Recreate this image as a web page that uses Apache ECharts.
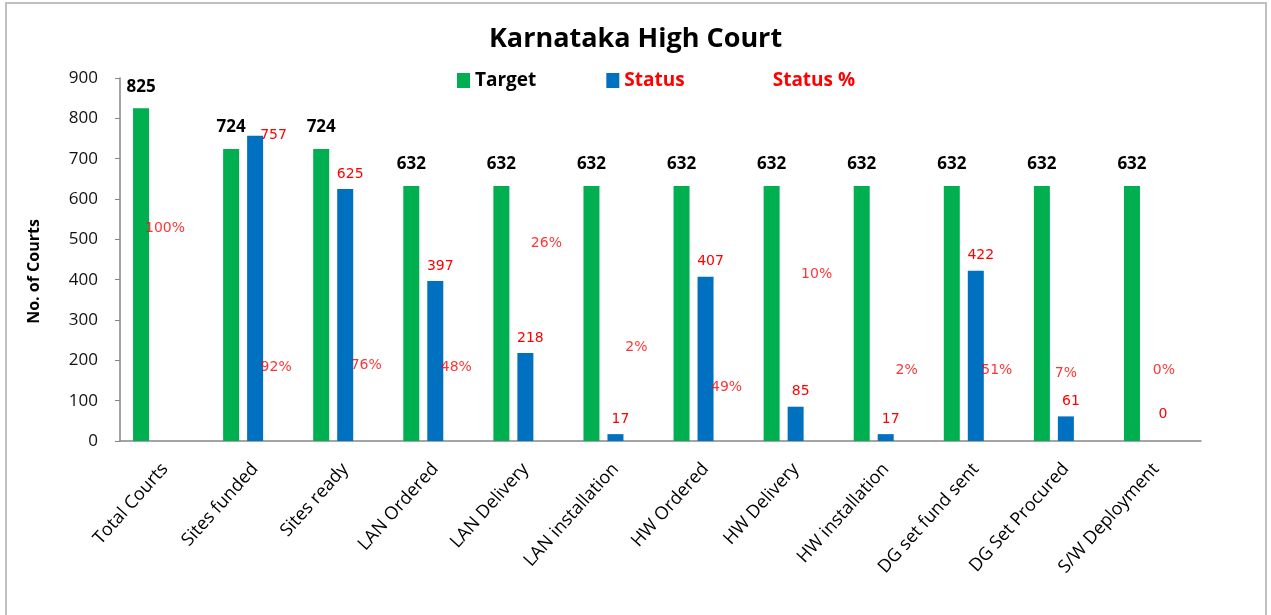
<!DOCTYPE html>
<html>
<head>
<meta charset="utf-8">
<script src="https://cdn.jsdelivr.net/npm/echarts@6/dist/echarts.min.js"></script>
<style>
html, body { margin: 0; padding: 0; background: #fff; }
#main { width: 1271px; height: 615px; }
</style>
</head>
<body>
<div id="main"></div>
<script>
// categories (x axis)
var categories = ['Total Courts', 'Sites funded', 'Sites ready', 'LAN Ordered', 'LAN Delivery', 'LAN installation',
    'HW Ordered', 'HW Delivery', 'HW installation', 'DG set fund sent', 'DG Set Procured', 'S/W Deployment'];
// Target bars
var targetData = [825, 724, 724, 632, 632, 632, 632, 632, 632, 632, 632, 632];
// Status bars (no status for Total Courts)
var statusData = ['-', 757, 625, 397, 218, 17, 407, 85, 17, 422, 61, 0];
// Status % (fraction of total courts)
var statusPct = [1.00, 0.92, 0.76, 0.48, 0.26, 0.02, 0.49, 0.10, 0.02, 0.51, 0.07, 0.00];
// height (in No. of Courts) where each Status % label sits in the picture
var pctLabelY = [527, 183, 187, 183, 490, 232, 133, 412, 176, 174, 168, 176];

var myChart = echarts.init(document.getElementById('main'));

var baseFont = 'Open Sans';
var redFont = 'DejaVu Sans';

// status labels: the one for Sites funded sits beside the top of the bar
var statusItems = statusData.map(function (v, i) {
    if (i === 1) {
        return { value: v, label: { position: ['100%', 0], align: 'left', verticalAlign: 'middle', offset: [-3, 0] } };
    }
    if (v === 0) {
        return { value: v, label: { distance: 20, offset: [7, 0] } };
    }
    return v;
});

// % labels drift a bit to the right of the category centre
var pctShift = { 0: 0, 10: 0, 11: 8 };
var pctItems = pctLabelY.map(function (y, i) {
    var dx = pctShift[i] !== undefined ? pctShift[i] : 21;
    return { value: y, label: { offset: [dx, 0] } };
});

var option = {
    animation: false,
    backgroundColor: '#fff',
    graphic: [{
        type: 'rect',
        shape: { x: 6, y: 3, width: 1260, height: 660 },
        style: { fill: 'none', stroke: '#bfbfbf', lineWidth: 2 },
        silent: true
    }],
    title: {
        text: 'Karnataka High Court',
        left: 'center',
        top: 21,
        textStyle: { fontFamily: baseFont, fontSize: 27, fontWeight: 'bold', color: '#000' }
    },
    legend: {
        left: 452,
        top: 66,
        icon: 'rect',
        itemWidth: 13,
        itemHeight: 15,
        itemGap: 70,
        textStyle: { fontFamily: baseFont, fontSize: 19, fontWeight: 'bold' },
        data: [
            { name: 'Target', textStyle: { color: '#000' } },
            { name: 'Status', textStyle: { color: '#ff0000' } },
            { name: 'Status %', textStyle: { color: '#ff0000' } }
        ]
    },
    grid: { left: 120, right: 70, top: 78, bottom: 174 },
    xAxis: {
        type: 'category',
        data: categories,
        axisLine: { lineStyle: { color: '#868686', width: 1.5 } },
        axisTick: { show: false },
        axisLabel: { interval: 0, rotate: 48, margin: 25, fontFamily: baseFont, fontSize: 18, color: '#000' }
    },
    yAxis: {
        type: 'value',
        min: 0,
        max: 900,
        interval: 100,
        name: 'No. of Courts',
        nameLocation: 'middle',
        nameGap: 78,
        nameTextStyle: { fontFamily: baseFont, fontSize: 16, fontWeight: 'bold', color: '#000', padding: [0, 24, 0, 0] },
        axisLine: { show: true, lineStyle: { color: '#868686', width: 1.5 } },
        axisTick: { show: true, length: 5, lineStyle: { color: '#868686' } },
        axisLabel: { margin: 22, fontFamily: baseFont, fontSize: 17, color: '#111' },
        splitLine: { show: false }
    },
    series: [
        {
            name: 'Target',
            type: 'bar',
            barWidth: 16,
            barGap: '50%',
            data: targetData,
            itemStyle: { color: '#00b050' },
            label: {
                show: true, position: 'top', distance: 13,
                fontFamily: baseFont, fontSize: 17, fontWeight: 'bold', color: '#000'
            }
        },
        {
            name: 'Status',
            type: 'bar',
            barWidth: 16,
            barGap: '50%',
            data: statusItems,
            itemStyle: { color: '#0070c0' },
            label: {
                show: true, position: 'top', distance: 8, offset: [5, 0],
                fontFamily: redFont, fontSize: 14, color: '#ff0000'
            }
        },
        {
            name: 'Status %',
            type: 'bar',
            barWidth: 16,
            barGap: '50%',
            data: statusPct,
            itemStyle: { color: 'rgba(0,0,0,0)' }
        },
        {
            name: 'pctLabels',
            type: 'scatter',
            symbolSize: 0,
            data: pctItems,
            itemStyle: { color: 'rgba(0,0,0,0)' },
            label: {
                show: true,
                position: 'inside',
                fontFamily: redFont,
                fontSize: 14,
                color: '#ff0000',
                formatter: function (p) {
                    return Math.round(statusPct[p.dataIndex] * 100) + '%';
                }
            }
        }
    ]
};

myChart.setOption(option);
</script>
</body>
</html>
